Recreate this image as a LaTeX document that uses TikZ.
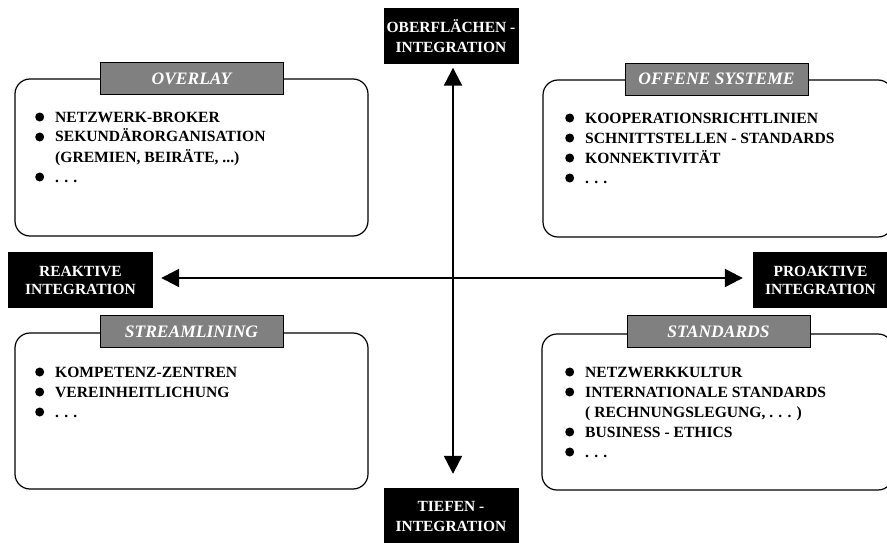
\documentclass[tikz,border=0pt]{standalone}
\usepackage{fontspec}
\setmainfont{Liberation Serif}
\usetikzlibrary{arrows.meta}

\definecolor{labelgray}{RGB}{128,128,128}

% filled round bullet for the item lists
\newcommand{\itembul}{\makebox[20pt][l]{\tikz[baseline=-5pt]\fill (4.5pt,0pt) circle (4.5pt);}}
\newcommand{\itemgap}{\hspace*{20pt}}

\tikzset{
  pole/.style={fill=black, text=white, font=\bfseries\fontsize{15.5}{#1}\selectfont,
    align=center, inner sep=0pt, minimum width=135pt, minimum height=56pt},
  field/.style={draw=black, line width=1.2pt, rounded corners=15pt},
  fieldtitle/.style={fill=labelgray, draw=black, line width=0.6pt, text=white,
    font=\bfseries\itshape\fontsize{17.5}{20}\selectfont,
    minimum width=183pt, minimum height=32pt, inner sep=0pt},
  % anchored at the baseline of the last line of the list
  itemlist/.style={anchor=base west, align=left, inner sep=0pt,
    font=\bfseries\fontsize{15.6}{20}\selectfont},
  axis/.style={line width=2.2pt, {Triangle[length=18pt,width=18pt]}-{Triangle[length=18pt,width=18pt]}}
}

\begin{document}
\begin{tikzpicture}[x=1pt, y=-1pt]
  \useasboundingbox (0,0) rectangle (887,543);
  \clip (0,0) rectangle (887,543);

  % the four poles of the two axes
  \node[pole=20] (top) at (451,36.5) {OBERFLÄCHEN -\\INTEGRATION};
  \node[pole=20] (bottom) at (451,516) {TIEFEN -\\INTEGRATION};
  \node[pole=18, minimum width=145pt] (left) at (80.5,280) {REAKTIVE\\INTEGRATION};
  \node[pole=18, minimum width=135pt] (right) at (820.5,280) {PROAKTIVE\\INTEGRATION};

  % axes
  \draw[axis, shorten <=3pt, shorten >=14pt] ([xshift=2pt]top.south) -- ([xshift=2pt]bottom.north);
  \draw[axis, shorten <=8pt, shorten >=10pt] ([yshift=2pt]left.east) -- ([yshift=2pt]right.west);

  % quadrant fields
  \draw[field] (15,79) rectangle (368,236);
  \draw[field] (543,80) rectangle (893,237);
  \draw[field] (15,333) rectangle (368,489);
  \draw[field] (542,334) rectangle (893,490);

  % field titles
  \node[fieldtitle] (overlay) at (191.5,78.5) {OVERLAY};
  \node[fieldtitle] (offene) at (716.5,79) {OFFENE SYSTEME};
  \node[fieldtitle] (stream) at (191.5,331.5) {STREAMLINING};
  \node[fieldtitle] (standards) at (718.5,331.5) {STANDARDS};

  % field contents
  \node[itemlist] (overlaylist) at (35,182) {%
    \itembul NETZWERK-BROKER\\
    \itembul SEKUNDÄRORGANISATION\\
    \itemgap (GREMIEN, BEIRÄTE, ...)\\
    \itembul . . .};
  \node[itemlist] (offenelist) at (565,183) {%
    \itembul KOOPERATIONSRICHTLINIEN\\
    \itembul SCHNITTSTELLEN - STANDARDS\\
    \itembul KONNEKTIVITÄT\\
    \itembul . . .};
  \node[itemlist] (streamlist) at (35,417) {%
    \itembul KOMPETENZ-ZENTREN\\
    \itembul VEREINHEITLICHUNG\\
    \itembul . . .};
  \node[itemlist] (standardslist) at (565,457) {%
    \itembul NETZWERKKULTUR\\
    \itembul INTERNATIONALE STANDARDS\\
    \itemgap ( RECHNUNGSLEGUNG, . . . )\\
    \itembul BUSINESS - ETHICS\\
    \itembul . . .};
\end{tikzpicture}
\end{document}
